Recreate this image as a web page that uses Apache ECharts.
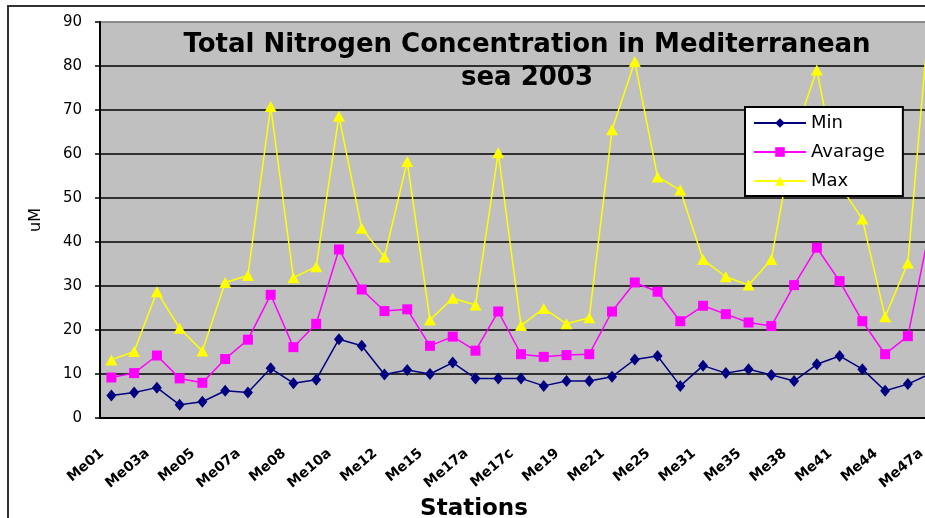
<!DOCTYPE html>
<html>
<head>
<meta charset="utf-8">
<title>Total Nitrogen Concentration in Mediterranean sea 2003</title>
<script src="https://cdn.jsdelivr.net/npm/echarts@6/dist/echarts.min.js"></script>
<style>
  html, body { margin: 0; padding: 0; background: #fff; overflow: hidden; }
  #chart { width: 925px; height: 518px; }
</style>
</head>
<body>
<div id="chart"></div>
<script>
// stations (only every other one is labelled in the original)
var stations = [
  "Me01", "Me02", "Me03a", "Me04", "Me05", "Me06", "Me07a", "Me07b", "Me08", "Me09",
  "Me10a", "Me11", "Me12", "Me13", "Me15", "Me16", "Me17a", "Me17b", "Me17c", "Me18",
  "Me19", "Me20", "Me21", "Me23", "Me25", "Me27", "Me31", "Me33", "Me35", "Me37",
  "Me38", "Me40", "Me41", "Me43", "Me44", "Me46", "Me47a"
];
var minValues = [
  5.1, 5.8, 6.9, 3.0, 3.7, 6.2, 5.8, 11.3, 7.9, 8.7,
  17.9, 16.4, 9.9, 10.9, 10.0, 12.6, 9.0, 9.0, 9.0, 7.3,
  8.4, 8.4, 9.4, 13.3, 14.1, 7.3, 11.9, 10.2, 11.1, 9.8,
  8.4, 12.2, 14.1, 11.1, 6.2, 7.7, 10.1
];
var avgValues = [
  9.2, 10.2, 14.2, 9.0, 8.0, 13.4, 17.8, 28.0, 16.1, 21.4,
  38.3, 29.2, 24.3, 24.7, 16.4, 18.5, 15.3, 24.2, 14.5, 13.9,
  14.3, 14.5, 24.2, 30.8, 28.7, 22.0, 25.5, 23.6, 21.7, 20.9,
  30.2, 38.7, 31.1, 22.0, 14.5, 18.6, 44.0
];
// last station runs off the top of the plot in the original
var maxValues = [
  13.2, 15.1, 28.7, 20.4, 15.2, 30.8, 32.4, 70.8, 31.9, 34.4,
  68.6, 43.1, 36.6, 58.3, 22.3, 27.2, 25.7, 60.3, 21.0, 24.9,
  21.4, 22.8, 65.5, 81.0, 54.8, 51.8, 36.0, 32.1, 30.2, 36.0,
  64.0, 79.1, 53.0, 45.2, 23.0, 35.2, 95.0
];
var seriesNames = ["Min", "Avarage", "Max"];

var myChart = echarts.init(document.getElementById("chart"));

var gridColors = ["#000", "#000", "#000", "#000", "#000", "#000", "#000", "#000", "#000", "#808080"];

myChart.setOption({
  backgroundColor: "#fff",
  animation: false,
  title: {
    text: "Total Nitrogen Concentration in Mediterranean\nsea 2003",
    left: 527,
    top: 29,
    textAlign: "center",
    padding: 0,
    textStyle: {
      fontFamily: "DejaVu Sans",
      fontWeight: "bold",
      fontSize: 26,
      lineHeight: 33,
      color: "#000"
    }
  },
  // outer chart frame, cut off on the right and bottom like the original
  graphic: [
    {
      type: "rect",
      shape: { x: 8, y: 6, width: 1200, height: 800 },
      style: { fill: null, stroke: "#333", lineWidth: 2 },
      silent: true,
      z: -1
    }
  ],
  legend: {
    orient: "vertical",
    left: 745,
    top: 107,
    data: seriesNames,
    backgroundColor: "#fff",
    borderColor: "#000",
    borderWidth: 2,
    padding: [6, 18, 5, 8],
    itemWidth: 52,
    itemHeight: 12,
    itemGap: 9,
    textStyle: {
      fontFamily: "DejaVu Sans",
      fontSize: 18,
      lineHeight: 20,
      color: "#000"
    }
  },
  grid: {
    left: 100,
    top: 22,
    bottom: 100,
    width: 842,
    outerBoundsMode: "none",
    containLabel: false,
    show: true,
    backgroundColor: "#c0c0c0",
    borderColor: "#808080",
    borderWidth: 1
  },
  xAxis: {
    type: "category",
    data: stations,
    name: "Stations",
    nameLocation: "middle",
    nameGap: 68,
    nameTextStyle: {
      fontFamily: "DejaVu Sans",
      fontWeight: "bold",
      fontSize: 23,
      color: "#000",
      padding: [0, 94, 0, 0]
    },
    axisLine: { lineStyle: { color: "#000", width: 2 } },
    axisTick: { interval: 0, length: 5, lineStyle: { color: "#000", width: 1.5 } },
    axisLabel: {
      interval: 1,
      rotate: 40,
      margin: 26,
      padding: [0, 12, 0, 0],
      fontFamily: "DejaVu Sans",
      fontWeight: "bold",
      fontSize: 14,
      color: "#000"
    }
  },
  yAxis: {
    type: "value",
    min: 0,
    max: 90,
    interval: 10,
    name: "uM",
    nameLocation: "middle",
    nameGap: 56,
    nameTextStyle: {
      fontFamily: "DejaVu Sans",
      fontSize: 16,
      color: "#000"
    },
    axisLine: { show: true, lineStyle: { color: "#000", width: 2 } },
    axisTick: { show: true, length: 5, lineStyle: { color: "#000", width: 1.5 } },
    axisLabel: {
      margin: 18,
      fontFamily: "DejaVu Sans",
      fontSize: 15,
      color: "#000"
    },
    splitLine: { lineStyle: { color: gridColors, width: 1.5 } }
  },
  series: [
    {
      name: seriesNames[0],
      type: "line",
      data: minValues,
      symbol: "diamond",
      symbolSize: [10, 12],
      color: "#000080",
      lineStyle: { width: 1.5 }
    },
    {
      name: seriesNames[1],
      type: "line",
      data: avgValues,
      symbol: "rect",
      symbolSize: 10,
      color: "#ff00ff",
      lineStyle: { width: 1.5 }
    },
    {
      name: seriesNames[2],
      type: "line",
      data: maxValues,
      symbol: "triangle",
      symbolSize: [12, 11],
      color: "#ffff00",
      lineStyle: { width: 1.5 }
    }
  ]
});
</script>
</body>
</html>
